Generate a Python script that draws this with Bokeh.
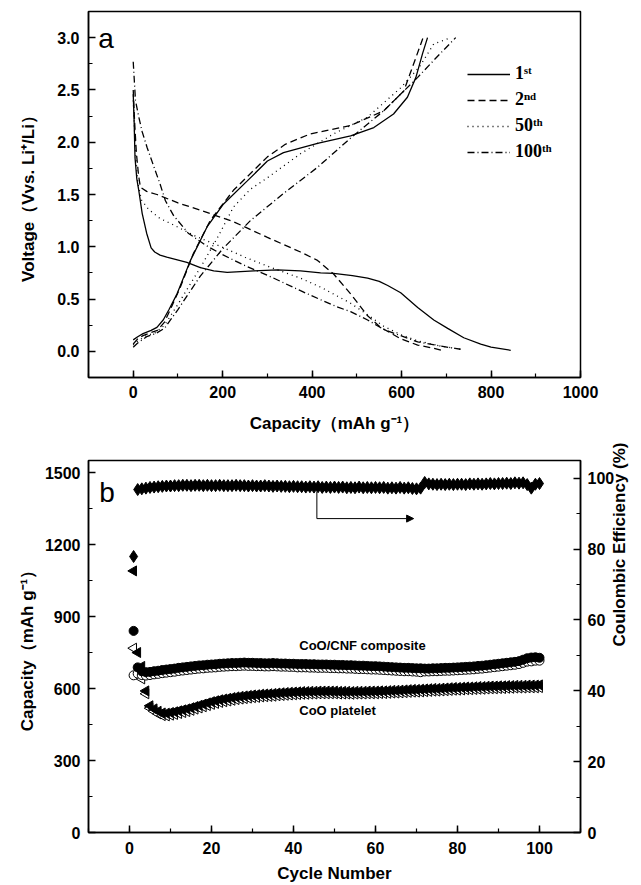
import math
from bokeh.plotting import figure
from bokeh.models import (Range1d, LinearAxis, SingleIntervalTicker, Legend, LegendItem,
                          Arrow, NormalHead, Label, PrintfTickFormatter)
from bokeh.layouts import column
from bokeh.embed import file_html
from bokeh.resources import INLINE

FONT = "Liberation Sans"

# ---------------- panel a : voltage profiles ----------------
d1_cap = [0, 2, 4, 8, 12, 20, 30, 40, 48, 60, 75, 120, 150, 180, 210, 270, 322, 374, 419, 448, 490, 524, 550, 569, 598, 636, 672, 703, 739, 777, 800, 844]
d1_v = [2.46, 2.2, 1.85, 1.65, 1.55, 1.32, 1.13, 0.99, 0.95, 0.92, 0.90, 0.85, 0.80, 0.77, 0.755, 0.77, 0.78, 0.77, 0.75, 0.745, 0.725, 0.70, 0.67, 0.63, 0.56, 0.42, 0.30, 0.22, 0.13, 0.07, 0.04, 0.01]
c1_cap = [0, 10, 22, 40, 53, 67, 80, 98, 128, 165, 202, 255, 300, 336, 412, 486, 538, 582, 613, 632, 647, 658]
c1_v = [0.11, 0.14, 0.17, 0.20, 0.23, 0.30, 0.40, 0.55, 0.87, 1.19, 1.41, 1.63, 1.82, 1.90, 1.99, 2.06, 2.14, 2.27, 2.43, 2.62, 2.85, 3.0]

d2_cap = [0, 3, 7, 12, 16, 30, 53, 100, 150, 224, 300, 374, 412, 448, 486, 524, 553, 598, 636, 672, 690]
d2_v = [2.5, 2.2, 1.9, 1.68, 1.57, 1.53, 1.50, 1.42, 1.35, 1.24, 1.09, 0.95, 0.87, 0.74, 0.55, 0.34, 0.23, 0.12, 0.06, 0.03, 0.01]
c2_cap = [0, 10, 22, 40, 54, 70, 85, 105, 134, 172, 224, 300, 340, 396, 486, 560, 605, 627, 643, 648]
c2_v = [0.07, 0.12, 0.15, 0.18, 0.20, 0.28, 0.42, 0.61, 0.93, 1.25, 1.54, 1.86, 1.98, 2.08, 2.16, 2.30, 2.49, 2.75, 2.94, 3.0]

d50_cap = [0, 3, 6, 10, 18, 34, 60, 85, 140, 197, 250, 309, 374, 421, 486, 524, 560, 598, 636, 688, 732]
d50_v = [2.4, 2.1, 1.85, 1.62, 1.45, 1.36, 1.27, 1.22, 1.10, 1.00, 0.90, 0.80, 0.70, 0.61, 0.46, 0.35, 0.24, 0.16, 0.10, 0.05, 0.02]
c50_cap = [0, 10, 30, 50, 70, 100, 150, 190, 224, 262, 300, 374, 448, 524, 598, 640, 672, 710]
c50_v = [0.06, 0.10, 0.15, 0.18, 0.25, 0.45, 0.80, 1.10, 1.38, 1.55, 1.66, 1.89, 2.08, 2.24, 2.52, 2.72, 2.94, 3.0]

d100_cap = [0, 5, 12, 20, 31, 45, 60, 72, 90, 123, 160, 197, 250, 309, 374, 421, 459, 486, 524, 560, 598, 636, 688, 732]
d100_v = [2.77, 2.4, 2.25, 2.1, 1.95, 1.78, 1.60, 1.44, 1.30, 1.13, 1.02, 0.93, 0.82, 0.71, 0.58, 0.49, 0.42, 0.38, 0.30, 0.21, 0.15, 0.09, 0.05, 0.02]
c100_cap = [0, 10, 30, 50, 70, 100, 150, 200, 262, 336, 412, 486, 560, 636, 680, 721]
c100_v = [0.04, 0.08, 0.14, 0.17, 0.22, 0.40, 0.72, 0.98, 1.25, 1.51, 1.76, 2.04, 2.30, 2.62, 2.82, 3.0]

legend_labels = ["1ˢᵗ", "2ⁿᵈ", "50ᵗʰ", "100ᵗʰ"]

# ---------------- panel b : cycling ----------------
cycles = list(range(1, 101))
comp_dis = [840, 688, 672, 668, 669, 672, 674, 677, 679, 681,
            683, 686, 688, 690, 692, 694, 696, 697, 699, 700,
            701, 703, 704, 705, 706, 706, 707, 708, 707, 707,
            706, 706, 705, 705, 706, 705, 704, 704, 703, 703,
            702, 702, 702, 701, 701, 700, 700, 700, 699, 699,
            698, 698, 697, 697, 696, 695, 695, 694, 693, 693,
            692, 691, 690, 689, 688, 687, 686, 686, 685, 684,
            684, 683, 683, 684, 684, 685, 686, 686, 687, 688,
            689, 690, 691, 692, 694, 695, 697, 699, 701, 703,
            705, 707, 709, 711, 714, 720, 726, 729, 730, 728]
comp_chg = [655, 662, 656, 654, 656, 659, 661, 664, 666, 668,
            670, 673, 675, 677, 679, 681, 683, 684, 686, 687,
            688, 690, 691, 692, 693, 693, 694, 695, 694, 694,
            693, 693, 692, 692, 693, 692, 691, 691, 690, 690,
            688, 688, 688, 687, 687, 686, 686, 686, 685, 685,
            684, 684, 683, 683, 682, 681, 681, 680, 679, 679,
            678, 677, 676, 675, 674, 673, 672, 672, 671, 670,
            668, 671, 671, 672, 672, 673, 674, 674, 675, 676,
            677, 678, 679, 680, 682, 683, 685, 687, 689, 691,
            693, 695, 697, 699, 702, 707, 712, 713, 716, 716]
plat_dis = [1090, 750, 692, 590, 528, 515, 505, 498, 497, 500,
            503, 507, 511, 515, 520, 525, 530, 535, 540, 545,
            549, 553, 556, 559, 562, 565, 567, 569, 571, 573,
            574, 576, 577, 578, 579, 581, 582, 583, 584, 585,
            586, 587, 587, 588, 588, 589, 589, 589, 589, 589,
            588, 588, 588, 587, 588, 588, 588, 589, 589, 589,
            590, 590, 591, 592, 592, 593, 594, 595, 596, 596,
            597, 598, 599, 600, 600, 601, 602, 603, 604, 604,
            605, 606, 606, 607, 608, 608, 609, 610, 610, 611,
            611, 612, 612, 613, 613, 613, 614, 614, 614, 615]
plat_chg = [768, 662, 640, 578, 518, 505, 494, 487, 486, 489,
            492, 496, 500, 504, 509, 514, 519, 524, 529, 534,
            538, 542, 545, 548, 551, 554, 556, 558, 560, 562,
            563, 565, 566, 567, 568, 570, 571, 572, 573, 574,
            575, 576, 576, 577, 577, 578, 578, 578, 578, 578,
            577, 577, 577, 576, 577, 577, 577, 578, 578, 578,
            579, 579, 580, 581, 581, 582, 583, 584, 585, 585,
            586, 587, 588, 589, 589, 590, 591, 592, 593, 593,
            594, 595, 595, 596, 597, 597, 598, 599, 599, 600,
            600, 601, 601, 602, 602, 602, 603, 603, 603, 604]
efficiency = [77.9, 96.8, 97.0, 97.2, 97.4, 97.5, 97.6, 97.7, 97.8, 97.8,
              97.9, 97.9, 98.0, 98.0, 97.9, 98.0, 98.0, 97.9, 98.0, 97.9,
              97.9, 98.0, 97.9, 97.9, 97.9, 98.0, 97.9, 97.9, 97.8, 97.9,
              97.8, 97.8, 97.9, 97.8, 97.7, 97.8, 97.7, 97.7, 97.6, 97.7,
              97.6, 97.6, 97.5, 97.6, 97.5, 97.6, 97.4, 97.5, 97.4, 97.5,
              97.4, 97.5, 97.3, 97.4, 97.3, 97.5, 97.3, 97.4, 97.3, 97.4,
              97.3, 97.4, 97.2, 97.3, 97.2, 97.4, 97.2, 97.3, 97.1, 97.0,
              97.2, 98.8, 98.4, 98.3, 98.2, 98.3, 98.2, 98.3, 98.2, 98.3,
              98.3, 98.2, 98.4, 98.3, 98.4, 98.3, 98.4, 98.5, 98.4, 98.5,
              98.5, 98.6, 98.5, 98.7, 98.6, 98.7, 98.2, 97.2, 98.3, 98.5]
arrow_x = [45.7, 45.7, 69.3]
arrow_eff = [96.3, 88.6, 88.6]


def style_axis(ax, interval, fmt=None):
    ax.ticker = SingleIntervalTicker(interval=interval, num_minor_ticks=2)
    if fmt:
        ax.formatter = PrintfTickFormatter(format=fmt)
    ax.major_tick_in = 7
    ax.major_tick_out = 0
    ax.minor_tick_in = 4
    ax.minor_tick_out = 0
    ax.axis_line_width = 1.5
    ax.axis_line_color = "black"
    ax.major_tick_line_width = 1.5
    ax.minor_tick_line_width = 1.2
    ax.major_tick_line_color = "black"
    ax.minor_tick_line_color = "black"
    ax.major_label_text_font = FONT
    ax.major_label_text_font_style = "bold"
    ax.major_label_text_font_size = "16px"
    ax.major_label_text_color = "black"
    ax.axis_label_text_font = FONT
    ax.axis_label_text_font_style = "bold"
    ax.axis_label_text_font_size = "17px"
    ax.axis_label_text_color = "black"


# ---------- top figure ----------
p1 = figure(width=641, height=440, x_range=Range1d(-100, 1000), y_range=Range1d(-0.25, 3.25),
            output_backend="svg", toolbar_location=None,
            min_border_left=88, min_border_right=60, min_border_top=11, min_border_bottom=63)
p1.grid.visible = False
p1.outline_line_color = "black"
p1.outline_line_width = 1.5
style_axis(p1.xaxis[0], 200)
style_axis(p1.yaxis[0], 0.5, "%.1f")
p1.xaxis.axis_label = "Capacity（mAh g⁻¹）"
p1.yaxis.axis_label = "Voltage（Vvs. Li⁺/Li）"
p1.xaxis.major_label_standoff = 8
p1.yaxis.major_label_standoff = 9
p1.xaxis.axis_label_standoff = 13
p1.yaxis.axis_label_standoff = 16

lw = 1.3
r1 = p1.line(d1_cap, d1_v, line_color="black", line_width=lw)
p1.line(c1_cap, c1_v, line_color="black", line_width=lw)
r2 = p1.line(d2_cap, d2_v, line_color="black", line_width=lw, line_dash="7 4")
p1.line(c2_cap, c2_v, line_color="black", line_width=lw, line_dash="7 4")
r50 = p1.line(d50_cap, d50_v, line_color="black", line_width=lw, line_dash="1 4")
p1.line(c50_cap, c50_v, line_color="black", line_width=lw, line_dash="1 4")
r100 = p1.line(d100_cap, d100_v, line_color="black", line_width=lw, line_dash="7 3 1 3")
p1.line(c100_cap, c100_v, line_color="black", line_width=lw, line_dash="7 3 1 3")

legend = Legend(items=[LegendItem(label=legend_labels[i], renderers=[r]) for i, r in enumerate([r1, r2, r50, r100])],
                location=(379, 215), padding=0, margin=0, spacing=5,
                glyph_width=43, glyph_height=20, label_height=20, label_standoff=5,
                border_line_color=None, background_fill_alpha=0,
                label_text_font="Liberation Serif", label_text_font_style="bold",
                label_text_font_size="18px", label_text_color="black")
p1.add_layout(legend, "center")
p1.add_layout(Label(x=-78, y=2.99, text="a", text_font=FONT, text_font_size="28px",
                    text_color="black", text_baseline="alphabetic"))

# ---------- bottom figure ----------
p2 = figure(width=641, height=445, x_range=Range1d(-10, 110), y_range=Range1d(0, 1550),
            output_backend="svg", toolbar_location=None,
            min_border_left=85, min_border_right=55, min_border_top=20, min_border_bottom=53)
p2.grid.visible = False
p2.outline_line_color = "black"
p2.outline_line_width = 1.5
p2.extra_y_ranges = {"eff": Range1d(0, 105)}
right_ax = LinearAxis(y_range_name="eff")
p2.add_layout(right_ax, "right")
style_axis(p2.xaxis[0], 20)
style_axis(p2.yaxis[0], 300)
style_axis(right_ax, 20)
p2.xaxis[0].axis_label = "Cycle Number"
p2.yaxis[0].axis_label = "Capacity（mAh g⁻¹）"
right_ax.axis_label = "Coulombic Efficiency (%)"
if "axis_label_orientation" in LinearAxis.properties():
    right_ax.axis_label_orientation = math.pi / 2
p2.xaxis[0].major_label_standoff = 9
p2.yaxis[0].major_label_standoff = 8
right_ax.major_label_standoff = 7
p2.xaxis[0].axis_label_standoff = 7
p2.yaxis[0].axis_label_standoff = 5
right_ax.axis_label_standoff = 2

p2.scatter(cycles, plat_chg, marker="triangle", angle=math.pi / 2, size=10,
           fill_color="white", line_color="black", line_width=1)
p2.scatter(cycles, comp_chg, marker="circle", size=9,
           fill_color="white", line_color="black", line_width=1)
p2.scatter(cycles, plat_dis, marker="triangle", angle=math.pi / 2, size=10,
           fill_color="black", line_color="black")
p2.scatter(cycles, comp_dis, marker="circle", size=9,
           fill_color="black", line_color="black")
p2.scatter(cycles, efficiency, marker="diamond", size=12, y_range_name="eff",
           fill_color="black", line_color="black")

p2.line(arrow_x[:2], arrow_eff[:2], y_range_name="eff", line_color="black", line_width=1)
p2.add_layout(Arrow(end=NormalHead(size=7, fill_color="black", line_color="black"),
                    x_start=arrow_x[1], y_start=arrow_eff[1], x_end=arrow_x[2], y_end=arrow_eff[2],
                    y_range_name="eff", line_color="black", line_width=1))

p2.add_layout(Label(x=41.4, y=781, text="CoO/CNF composite", text_font=FONT, text_font_style="bold",
                    text_font_size="13px", text_color="black", text_baseline="middle"))
p2.add_layout(Label(x=41.4, y=510, text="CoO platelet", text_font=FONT, text_font_style="bold",
                    text_font_size="13px", text_color="black", text_baseline="middle"))
p2.add_layout(Label(x=-7.4, y=1417, text="b", text_font=FONT, text_font_size="28px",
                    text_color="black", text_baseline="alphabetic"))

layout = column(p1, p2, spacing=0)
open("out.html", "w").write(file_html(layout, INLINE))
